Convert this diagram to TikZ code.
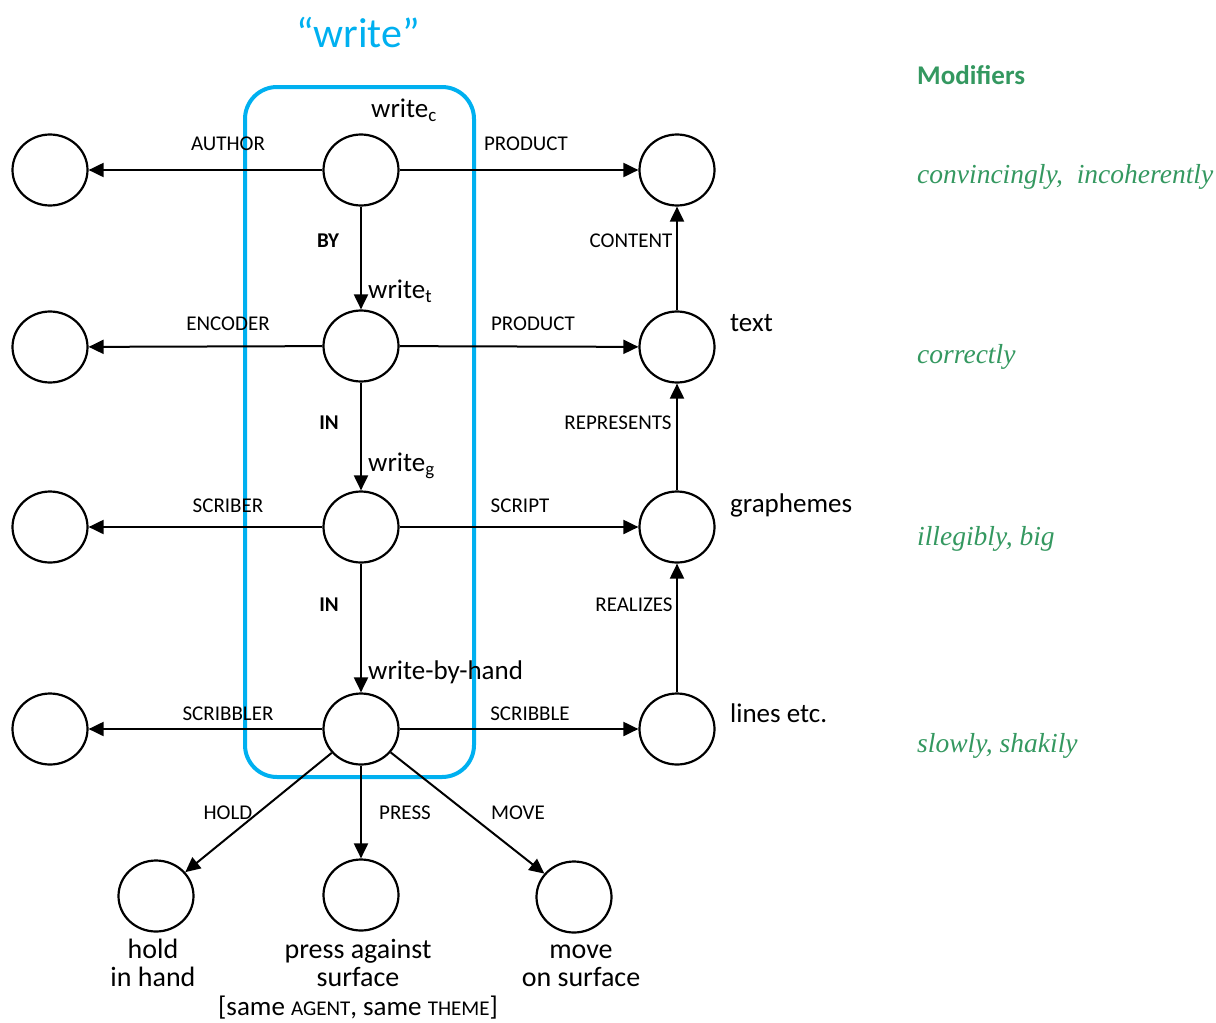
\documentclass[tikz,border=0pt]{standalone}
\usepackage{fontspec}
\setmainfont{Carlito}
\newfontfamily\modfont{Liberation Serif}
\usetikzlibrary{arrows.meta,shapes.geometric}
\definecolor{wblue}{RGB}{0,176,240}
\definecolor{mgreen}{RGB}{52,152,96}
\begin{document}
\begin{tikzpicture}[x=1pt,y=-1pt,
  ell/.style={ellipse,draw,line width=2.2pt,minimum width=75pt,minimum height=71pt,inner sep=0pt},
  arr/.style={line width=2pt,-{Triangle[length=15pt,width=14pt]}},
  elab/.style={font=\fontsize{21}{21}\selectfont,inner sep=0pt},
  blab/.style={font=\bfseries\fontsize{21}{21}\selectfont,inner sep=0pt},
  nlab/.style={font=\fontsize{27}{27}\selectfont,inner sep=0pt,anchor=west},
  mlab/.style={font=\modfont\itshape\fontsize{27.5}{27.5}\selectfont,text=mgreen,inner sep=0pt,anchor=west},
  dlab/.style={font=\fontsize{28}{28}\selectfont,align=center,inner sep=0pt}]
\useasboundingbox (0,0) rectangle (1216,1023);
% blue box
\draw[wblue,line width=4pt,rounded corners=32pt] (245,87) rectangle (474,777);
\node[font=\fontsize{42}{42}\selectfont,text=wblue,inner sep=0pt] (title) at (358,33) {“write”};
% nodes
\node[ell] (a1) at (50,170) {};
\node[ell] (w1) at (361,170) {};
\node[ell] (p1) at (677,170) {};
\node[ell] (a2) at (50,347) {};
\node[ell] (w2) at (361,346) {};
\node[ell] (p2) at (677,347) {};
\node[ell] (a3) at (50,527) {};
\node[ell] (w3) at (361,527) {};
\node[ell] (p3) at (677,527) {};
\node[ell] (a4) at (50,729) {};
\node[ell] (w4) at (361,729) {};
\node[ell] (p4) at (677,729) {};
\node[ell] (h) at (156,896) {};
\node[ell] (pr) at (361,895) {};
\node[ell] (mv) at (574,897) {};
% arrows
\draw[arr] (w1) -- (a1);
\draw[arr] (w1) -- (p1);
\draw[arr] (w1) -- (w2);
\draw[arr] (w2) -- (a2);
\draw[arr] (w2) -- (p2);
\draw[arr] (w2) -- (w3);
\draw[arr] (w3) -- (a3);
\draw[arr] (w3) -- (p3);
\draw[arr] (w3) -- (w4);
\draw[arr] (w4) -- (a4);
\draw[arr] (w4) -- (p4);
\draw[arr] (p2) -- (p1);
\draw[arr] (p3) -- (p2);
\draw[arr] (p4) -- (p3);
\draw[arr] (w4) -- (h);
\draw[arr] (w4) -- (pr);
\draw[arr] (w4) -- (mv);
% edge labels
\node[elab] (l1) at (228,144) {AUTHOR};
\node[elab] (l2) at (526,144) {PRODUCT};
\node[blab] (l3) at (328,241) {BY};
\node[elab] (l4) at (631,241) {CONTENT};
\node[elab] (l5) at (228,324) {ENCODER};
\node[elab] (l6) at (533,324) {PRODUCT};
\node[blab] (l7) at (329,423) {IN};
\node[elab] (l8) at (618,423) {REPRESENTS};
\node[elab] (l9) at (228,506) {SCRIBER};
\node[elab] (l10) at (520,506) {SCRIPT};
\node[blab] (l11) at (329,605) {IN};
\node[elab] (l12) at (634,605) {REALIZES};
\node[elab] (l13) at (228,714) {SCRIBBLER};
\node[elab] (l14) at (530,714) {SCRIBBLE};
\node[elab] (l15) at (228,813) {HOLD};
\node[elab] (l16) at (405,813) {PRESS};
\node[elab] (l17) at (518,813) {MOVE};
% node labels
\node[nlab] (n1) at (371,110) {write\textsubscript{c}};
\node[nlab] (n2) at (368,291) {write\textsubscript{t}};
\node[nlab] (n3) at (368,466) {write\textsubscript{g}};
\node[nlab] (n4) at (368,672) {write-by-hand};
\node[nlab] (n5) at (730,323) {text};
\node[nlab] (n6) at (730,505) {graphemes};
\node[nlab] (n7) at (730,713) {lines etc.};
% bottom labels
\node[dlab] (d1) at (153,967) {\strut hold\\\strut in hand};
\node[dlab] (d2) at (358,967) {\strut press against\\\strut surface};
\node[dlab] (d3) at (581,967) {\strut move\\\strut on surface};
\node[font=\fontsize{27}{27}\selectfont,inner sep=0pt] (d4) at (358,1008) {[same {\fontsize{21}{21}\selectfont AGENT}, same {\fontsize{21}{21}\selectfont THEME}]};
% modifiers
\node[font=\bfseries\fontsize{27}{27}\selectfont,text=mgreen,inner sep=0pt,anchor=west] (m0) at (917,75) {Modifiers};
\node[mlab] (m1) at (917,177) {convincingly,\ \ incoherently};
\node[mlab] (m2) at (917,357) {correctly};
\node[mlab] (m3) at (917,539) {illegibly, big};
\node[mlab] (m4) at (917,746) {slowly, shakily};
\end{tikzpicture}
\end{document}
